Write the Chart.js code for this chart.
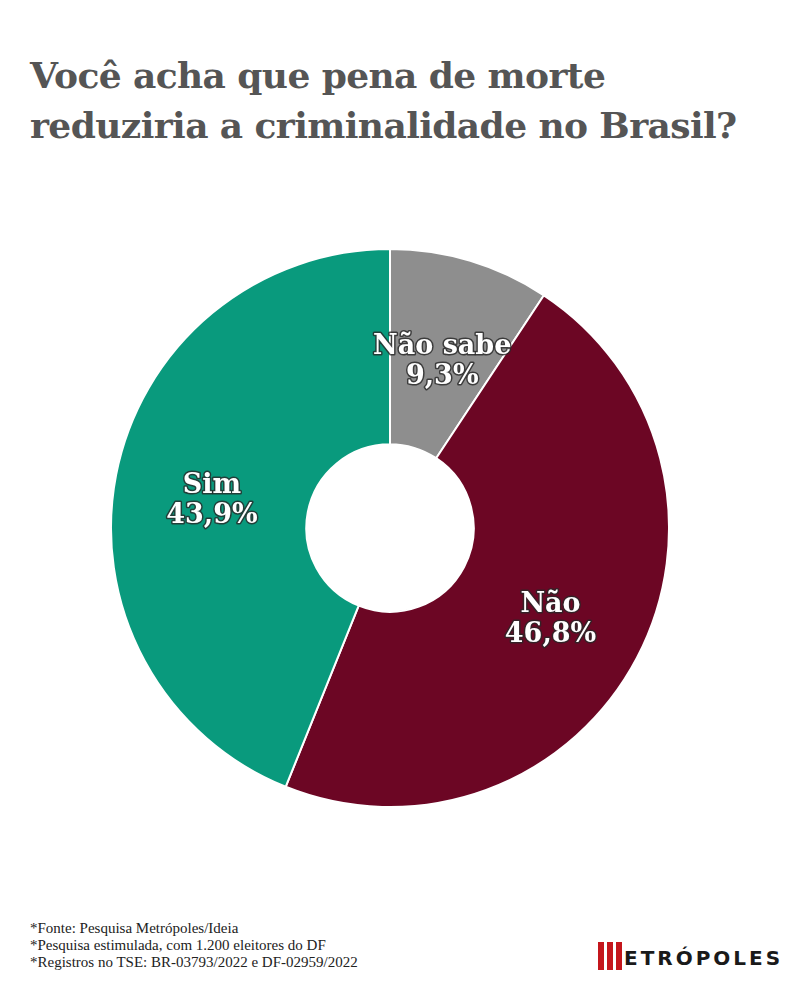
<!DOCTYPE html>
<html><head><meta charset="utf-8">
<script src="https://cdn.jsdelivr.net/npm/chart.js@4"></script>
<style>
body{margin:0;width:800px;height:1000px;background:#fff;position:relative;overflow:hidden}
h1{position:absolute;left:30px;top:50px;margin:0;font:bold 36px/50px "DejaVu Serif",serif;color:#555;letter-spacing:-0.6px}
#wrap{position:absolute;left:110px;top:248px;width:560px;height:560px}
.foot{position:absolute;left:30px;top:920px;font:15px/17px "Liberation Serif",serif;color:#222}
.logo{position:absolute;left:598px;top:942px;font:bold 20px "DejaVu Sans",sans-serif;color:#1a1a1a;letter-spacing:3px}
.logo span{display:inline-block;width:24px;height:28px;vertical-align:-5px;margin-right:2px;
 background:repeating-linear-gradient(90deg,#c4161c 0 6px,#fff 6px 9px)}
</style></head><body>
<h1>Você acha que pena de morte<br>reduziria a criminalidade no Brasil?</h1>
<div id="wrap"><canvas id="c"></canvas></div>
<div class="foot">*Fonte: Pesquisa Metrópoles/Ideia<br>*Pesquisa estimulada, com 1.200 eleitores do DF<br>*Registros no TSE: BR-03793/2022 e DF-02959/2022</div>
<div class="logo"><span></span>ETRÓPOLES</div>
<script>
// data
const labels = ["Não sabe", "Não", "Sim"];
const values = [9.3, 46.8, 43.9];
const colors = ["#8e8e8e", "#6c0624", "#099a7d"];

const sliceLabels = {
  id: "sliceLabels",
  afterDatasetsDraw(chart) {
    const ctx = chart.ctx;
    const meta = chart.getDatasetMeta(0);
    ctx.save();
    ctx.font = "bold 27px 'DejaVu Serif', serif";
    ctx.textAlign = "center";
    ctx.textBaseline = "middle";
    ctx.lineJoin = "round";
    meta.data.forEach((arc, i) => {
      const p = arc.tooltipPosition();
      const lines = [labels[i], values[i].toFixed(1).replace(".", ",") + "%"];
      lines.forEach((t, j) => {
        const y = p.y + 8 + (j - 0.5) * 30;
        ctx.lineWidth = 3;
        ctx.strokeStyle = "rgba(40,40,40,0.8)";
        ctx.strokeText(t, p.x, y);
        ctx.fillStyle = "#fff";
        ctx.fillText(t, p.x, y);
      });
    });
    ctx.restore();
  }
};

new Chart(document.getElementById("c"), {
  type: "doughnut",
  data: { labels, datasets: [{ data: values, backgroundColor: colors, borderColor: "#fff", borderWidth: 2 }] },
  options: {
    responsive: true, maintainAspectRatio: false, animation: false,
    cutout: "30%",
    layout: { padding: 0 },
    plugins: { legend: { display: false }, tooltip: { enabled: false } }
  },
  plugins: [sliceLabels]
});
</script>
</body></html>
